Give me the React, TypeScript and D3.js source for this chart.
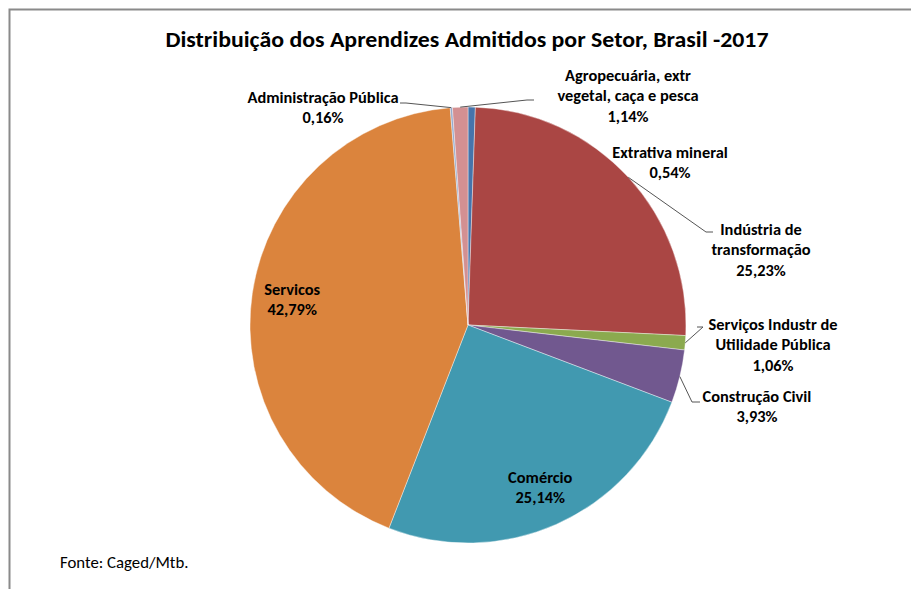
import React from "react";
import * as d3 from "d3";

const sectors = [
  "Extrativa mineral",
  "Indústria de transformação",
  "Serviços Industr de Utilidade Pública",
  "Construção Civil",
  "Comércio",
  "Servicos",
  "Administração Pública",
  "Agropecuária, extr vegetal, caça e pesca",
];
const shares = [0.54, 25.23, 1.06, 3.93, 25.14, 42.79, 0.16, 1.14];
const shareLabels = ["0,54%", "25,23%", "1,06%", "3,93%", "25,14%", "42,79%", "0,16%", "1,14%"];
const labelLines = [
  ["Extrativa mineral"],
  ["Indústria de", "transformação"],
  ["Serviços Industr de", "Utilidade Pública"],
  ["Construção Civil"],
  ["Comércio"],
  ["Servicos"],
  ["Administração Pública"],
  ["Agropecuária, extr", "vegetal, caça e pesca"],
];
const colors = ["#4674AB", "#AA4644", "#8BAA4F", "#71588F", "#4199B0", "#DB843D", "#94AACD", "#D39092"];

const W = 911;
const H = 589;
const cx = 468;
const cy = 325;
const R = 218;
const FONT = "Calibri, Carlito, Lato, 'Open Sans', sans-serif";
const LINE_H = 20.5;
const LABEL_FS = 16.4;

type Lay = { x?: number; y?: number; tick?: [number, number, number] | null; inside?: boolean };
const layout: Lay[] = [
  { x: 670, y: 152, tick: null },
  { x: 761, y: 229, tick: [713, 706, 232] },
  { x: 773, y: 324, tick: [697, 703, 327] },
  { x: 757, y: 396, tick: [700, 692, 402] },
  { inside: true },
  { inside: true },
  { x: 323, y: 97, tick: [400, 406, 103] },
  { x: 628, y: 75, tick: [534, 527, 100] },
];

export default function App() {
  const pie = d3.pie<number>().sort(null).value((d) => d);
  const arcs = pie(shares);
  const arc = d3.arc<d3.PieArcDatum<number>>().innerRadius(0).outerRadius(R);

  const pt = (a: number, r: number): [number, number] => [cx + r * Math.sin(a), cy - r * Math.cos(a)];

  return (
    <svg
      width={W}
      height={H}
      style={{ position: "absolute", left: 0, top: 0, background: "#fff" }}
      fontFamily={FONT}
    >
      <rect x={0} y={0} width={W} height={H} fill="#fff" />
      <rect x={9.5} y={9.5} width={1200} height={1200} fill="none" stroke="#8a8a8a" strokeWidth={2} />
      <text
        x={467}
        y={47}
        textAnchor="middle"
        fontSize={22}
        fontWeight="bold"
        fill="#000"
        textLength={603}
        lengthAdjust="spacingAndGlyphs"
      >
        Distribuição dos Aprendizes Admitidos por Setor, Brasil -2017
      </text>
      <g>
        {arcs.map((a, i) => (
          <path
            key={sectors[i]}
            d={arc(a) as string}
            transform={`translate(${cx},${cy})`}
            fill={colors[i]}
            stroke="#fff"
            strokeWidth={0.4}
          />
        ))}
      </g>
      <g>
        {arcs.map((a, i) => {
          const L = layout[i];
          const mid = (a.startAngle + a.endAngle) / 2;
          const lines = [...labelLines[i], shareLabels[i]];
          if (L.inside) {
            const [lx, ly] = pt(mid, R * 0.815);
            const y0 = ly - ((lines.length - 1) * LINE_H) / 2;
            return (
              <text key={i} textAnchor="middle" fontSize={LABEL_FS} fontWeight="bold" fill="#000">
                {lines.map((t, k) => (
                  <tspan key={k} x={lx} y={y0 + k * LINE_H} dy="0.35em">
                    {t}
                  </tspan>
                ))}
              </text>
            );
          }
          const els: React.ReactNode[] = [];
          if (L.tick) {
            const [ex, ey] = pt(mid, R);
            const [t0, t1, ty] = L.tick;
            els.push(
              <polyline
                key="l"
                points={`${t0},${ty} ${t1},${ty} ${ex},${ey}`}
                fill="none"
                stroke="#555"
                strokeWidth={1}
              />
            );
          }
          els.push(
            <text key="t" textAnchor="middle" fontSize={LABEL_FS} fontWeight="bold" fill="#000">
              {lines.map((t, k) => (
                <tspan key={k} x={L.x} y={(L.y as number) + k * LINE_H} dy="0.35em">
                  {t}
                </tspan>
              ))}
            </text>
          );
          return <g key={i}>{els}</g>;
        })}
      </g>
      <text x={60} y={562} dy="0.35em" fontSize={16.8} fill="#000">
        Fonte: Caged/Mtb.
      </text>
    </svg>
  );
}
